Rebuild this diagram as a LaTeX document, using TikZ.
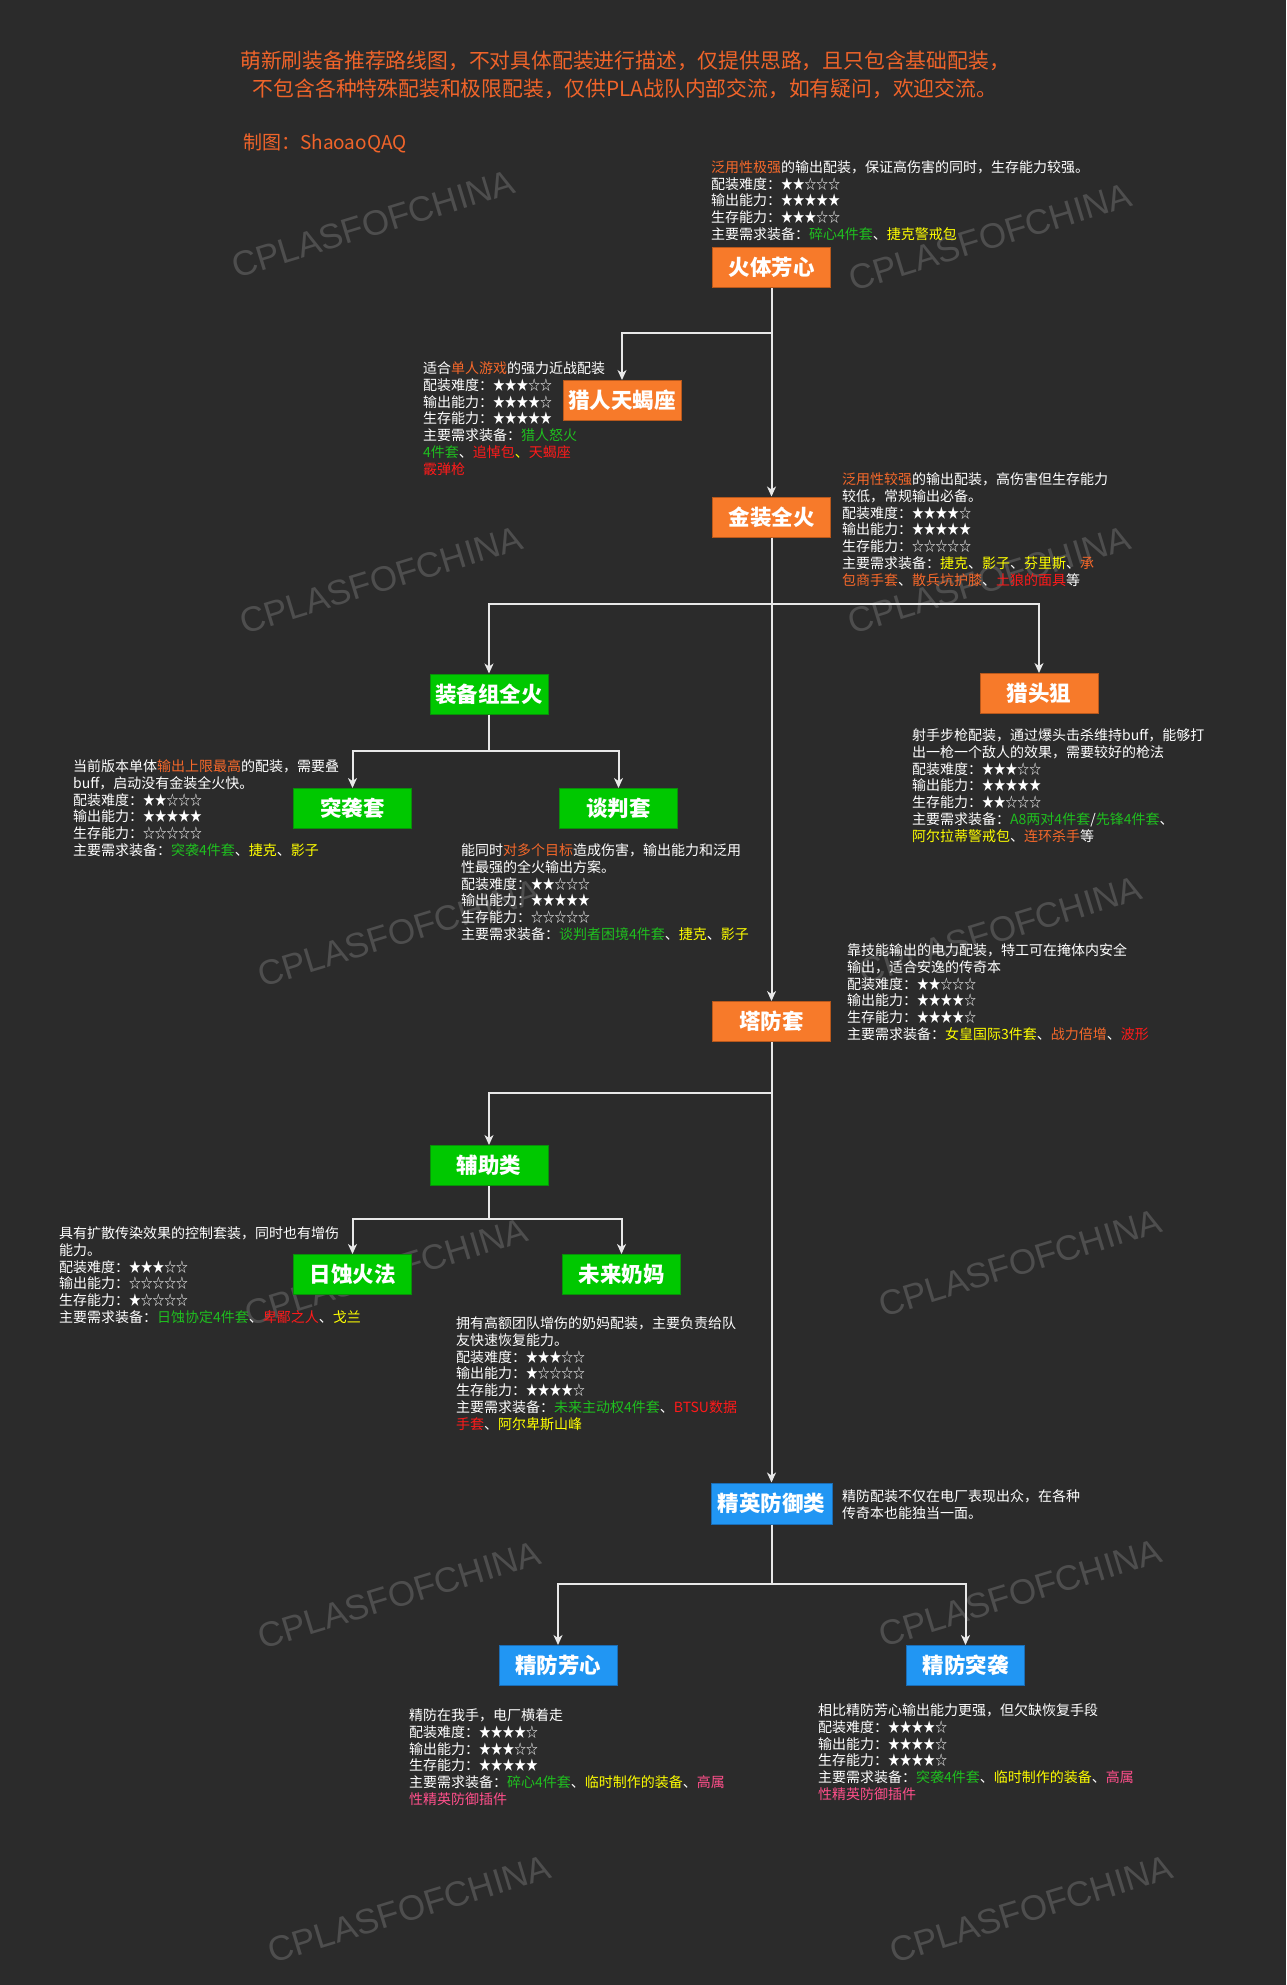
\documentclass[tikz,border=0pt]{standalone}
\usepackage{fontspec}
\setmainfont{Noto Sans CJK SC}
\newfontfamily\wmfont{Liberation Sans}
\usetikzlibrary{arrows.meta}
\definecolor{bgc}{HTML}{2B2B2B}
\definecolor{wmc}{HTML}{4E4E4E}
\definecolor{titc}{HTML}{F0642A}
\definecolor{hlorange}{HTML}{F5682A}
\definecolor{hlgreen}{HTML}{1FBF1F}
\definecolor{hlyellow}{HTML}{FFFF00}
\definecolor{hlred}{HTML}{FF1A1A}
\definecolor{hlpink}{HTML}{FF4F8B}
\definecolor{boxor}{HTML}{F77A2A}
\definecolor{boxorb}{HTML}{B8581C}
\definecolor{boxgr}{HTML}{00C800}
\definecolor{boxgrb}{HTML}{0A8F0A}
\definecolor{boxbl}{HTML}{2196F3}
\definecolor{boxblb}{HTML}{1B6DB5}
\definecolor{linec}{HTML}{E8E8E8}
\newcommand\hlo[1]{\textcolor{hlorange}{#1}}
\newcommand\hlg[1]{\textcolor{hlgreen}{#1}}
\newcommand\hly[1]{\textcolor{hlyellow}{#1}}
\newcommand\hlr[1]{\textcolor{hlred}{#1}}
\newcommand\hlp[1]{\textcolor{hlpink}{#1}}
\newcommand\sr[1]{\scalebox{0.84}[1]{#1}}
\newcommand\fst{\vrule height 12.5pt depth 0pt width 0pt}
\begin{document}
\begin{tikzpicture}[x=1pt,y=-1pt,
  box/.style={draw, line width=1pt, minimum width=118pt, minimum height=40pt, inner sep=0pt, text=white, font=\fontsize{21.5}{24}\selectfont\bfseries},
  boxo/.style={box, fill=boxor, draw=boxorb},
  boxg/.style={box, fill=boxgr, draw=boxgrb},
  boxb/.style={box, fill=boxbl, draw=boxblb},
  conn/.style={draw=linec, line width=2pt, -{Stealth[length=10pt,width=9pt,inset=3pt]}},
  desc/.style={anchor=north west, inner sep=0pt, align=left, text=white, font=\fontsize{14}{16.9}\selectfont},
  wm/.style={text=wmc, font=\wmfont\fontsize{35}{40}\selectfont, rotate=17, inner sep=0pt}
]
\fill[bgc] (0,0) rectangle (1286,1985);
\useasboundingbox (0,0) rectangle (1286,1985);

% watermarks
\node[wm] (w1) at (373,224) {CPLASFOFCHINA};
\node[wm] (w2) at (990,237) {CPLASFOFCHINA};
\node[wm] (w3) at (381,580) {CPLASFOFCHINA};
\node[wm] (w4) at (989,580) {CPLASFOFCHINA};
\node[wm] (w5) at (399,933) {CPLASFOFCHINA};
\node[wm] (w6) at (1000,930) {CPLASFOFCHINA};
\node[wm] (w7) at (386,1272) {CPLASFOFCHINA};
\node[wm] (w8) at (1020,1263) {CPLASFOFCHINA};
\node[wm] (w9) at (399,1595) {CPLASFOFCHINA};
\node[wm] (w10) at (1020,1593) {CPLASFOFCHINA};
\node[wm] (w11) at (409,1909) {CPLASFOFCHINA};
\node[wm] (w12) at (1031,1909) {CPLASFOFCHINA};

% title
\node[text=titc, align=center, inner sep=0pt, font=\fontsize{20.8}{28}\selectfont] (title) at (625,75)
  {萌新刷装备推荐路线图，不对具体配装进行描述，仅提供思路，且只包含基础配装，\\不包含各种特殊配装和极限配装，仅供PLA战队内部交流，如有疑问，欢迎交流。};
\node[text=titc, anchor=west, inner sep=0pt, font=\fontsize{19}{24}\selectfont] (author) at (243,143) {制图：ShaoaoQAQ};

% boxes
\node[boxo] (hx) at (771.5,267.5) {火体芳心};
\node[boxo] (lr) at (622,400.5) {猎人天蝎座};
\node[boxo] (jz) at (771.5,517) {金装全火};
\node[boxg] (zb) at (489,694) {装备组全火};
\node[boxo] (lt) at (1039,693.5) {猎头狙};
\node[boxg] (tx) at (352.5,808.5) {突袭套};
\node[boxg] (tp) at (618.5,808.5) {谈判套};
\node[boxo] (tf) at (771.5,1021.5) {塔防套};
\node[boxg] (fz) at (489,1165.5) {辅助类};
\node[boxg] (rs) at (352.5,1274.5) {日蚀火法};
\node[boxg] (wl) at (621.5,1274.5) {未来奶妈};
\node[boxb, minimum width=121pt, minimum height=41pt] (jy) at (771.5,1503.5) {精英防御类};
\node[boxb] (jf) at (558,1665.5) {精防芳心};
\node[boxb] (jt) at (965.5,1665.5) {精防突袭};

% branch points
\coordinate (b1) at (771.5,333);
\coordinate (b2) at (771.5,604);
\coordinate (b3) at (489,751);
\coordinate (b4) at (771.5,1093);
\coordinate (b5) at (489,1219);
\coordinate (b6) at (771.5,1584);

% connectors
\draw[conn] (hx.south) -- (b1) -| (lr.north);
\draw[conn] (hx.south) -- (jz.north);
\draw[conn] (jz.south) -- (b2) -| (zb.north);
\draw[conn] (jz.south) -- (b2) -| (lt.north);
\draw[conn] (jz.south) -- (tf.north);
\draw[conn] (zb.south) -- (b3) -| (tx.north);
\draw[conn] (zb.south) -- (b3) -| (tp.north);
\draw[conn] (tf.south) -- (b4) -| (fz.north);
\draw[conn] (tf.south) -- (jy.north);
\draw[conn] (fz.south) -- (b5) -| (rs.north);
\draw[conn] (fz.south) -- (b5) -| (wl.north);
\draw[conn] (jy.south) -- (b6) -| (jf.north);
\draw[conn] (jy.south) -- (b6) -| (jt.north);

% descriptions
\node[desc] (dhx) at (711,159.5) {\fst\hlo{泛用性极强}的输出配装，保证高伤害的同时，生存能力较强。\\
配装难度：\sr{★★☆☆☆}\\
输出能力：\sr{★★★★★}\\
生存能力：\sr{★★★☆☆}\\
主要需求装备：\hlg{碎心4件套}、\hly{捷克警戒包}};

\node[desc] (dlr) at (423,360.5) {\fst 适合\hlo{单人游戏}的强力近战配装\\
配装难度：\sr{★★★☆☆}\\
输出能力：\sr{★★★★☆}\\
生存能力：\sr{★★★★★}\\
主要需求装备：\hlg{猎人怒火}\\
\hlg{4件套}、\hlr{追悼包}\hly{、}\hlr{天蝎座}\\
\hlr{霰弹枪}};

\node[desc] (djz) at (842,471.5) {\fst\hlo{泛用性较强}的输出配装，高伤害但生存能力\\
较低，常规输出必备。\\
配装难度：\sr{★★★★☆}\\
输出能力：\sr{★★★★★}\\
生存能力：\sr{☆☆☆☆☆}\\
主要需求装备：\hly{捷克}、\hly{影子}、\hly{芬里斯}、\hlo{承}\\
\hlo{包商手套}、\hlo{散兵坑护膝}、\hlr{土狼的面具}等};

\node[desc] (dtx) at (73,758.5) {\fst 当前版本单体\hlo{输出上限最高}的配装，需要叠\\
buff，启动没有金装全火快。\\
配装难度：\sr{★★☆☆☆}\\
输出能力：\sr{★★★★★}\\
生存能力：\sr{☆☆☆☆☆}\\
主要需求装备：\hlg{突袭4件套}、\hly{捷克}、\hly{影子}};

\node[desc] (dtp) at (461,842.5) {\fst 能同时\hlo{对多个目标}造成伤害，输出能力和泛用\\
性最强的全火输出方案。\\
配装难度：\sr{★★☆☆☆}\\
输出能力：\sr{★★★★★}\\
生存能力：\sr{☆☆☆☆☆}\\
主要需求装备：\hlg{谈判者困境4件套}、\hly{捷克}、\hly{影子}};

\node[desc] (dlt) at (912,727.5) {\fst 射手步枪配装，通过爆头击杀维持buff，能够打\\
出一枪一个敌人的效果，需要较好的枪法\\
配装难度：\sr{★★★☆☆}\\
输出能力：\sr{★★★★★}\\
生存能力：\sr{★★☆☆☆}\\
主要需求装备：\hlg{A8两对4件套}/\hlg{先锋4件套}、\\
\hly{阿尔拉蒂警戒包}、\hlo{连环杀手}等};

\node[desc] (dtf) at (847,942.5) {\fst 靠技能输出的电力配装，特工可在掩体内安全\\
输出，适合安逸的传奇本\\
配装难度：\sr{★★☆☆☆}\\
输出能力：\sr{★★★★☆}\\
生存能力：\sr{★★★★☆}\\
主要需求装备：\hly{女皇国际3件套}、\hlo{战力倍增}、\hlr{波形}};

\node[desc] (drs) at (59,1225.5) {\fst 具有扩散传染效果的控制套装，同时也有增伤\\
能力。\\
配装难度：\sr{★★★☆☆}\\
输出能力：\sr{☆☆☆☆☆}\\
生存能力：\sr{★☆☆☆☆}\\
主要需求装备：\hlg{日蚀协定4件套}、\hlr{卑鄙之人}、\hly{戈兰}};

\node[desc] (dwl) at (456,1315.5) {\fst 拥有高额团队增伤的奶妈配装，主要负责给队\\
友快速恢复能力。\\
配装难度：\sr{★★★☆☆}\\
输出能力：\sr{★☆☆☆☆}\\
生存能力：\sr{★★★★☆}\\
主要需求装备：\hlg{未来主动权4件套}、\hlr{BTSU数据}\\
\hlr{手套}、\hly{阿尔卑斯山峰}};

\node[desc] (djy) at (842,1488.5) {\fst 精防配装不仅在电厂表现出众，在各种\\
传奇本也能独当一面。};

\node[desc] (djf) at (409,1707.5) {\fst 精防在我手，电厂横着走\\
配装难度：\sr{★★★★☆}\\
输出能力：\sr{★★★☆☆}\\
生存能力：\sr{★★★★★}\\
主要需求装备：\hlg{碎心4件套}、\hly{临时制作的装备}、\hlp{高属}\\
\hlp{性精英防御插件}};

\node[desc] (djt) at (818,1702.5) {\fst 相比精防芳心输出能力更强，但欠缺恢复手段\\
配装难度：\sr{★★★★☆}\\
输出能力：\sr{★★★★☆}\\
生存能力：\sr{★★★★☆}\\
主要需求装备：\hlg{突袭4件套}、\hly{临时制作的装备}、\hlp{高属}\\
\hlp{性精英防御插件}};
\end{tikzpicture}
\end{document}
